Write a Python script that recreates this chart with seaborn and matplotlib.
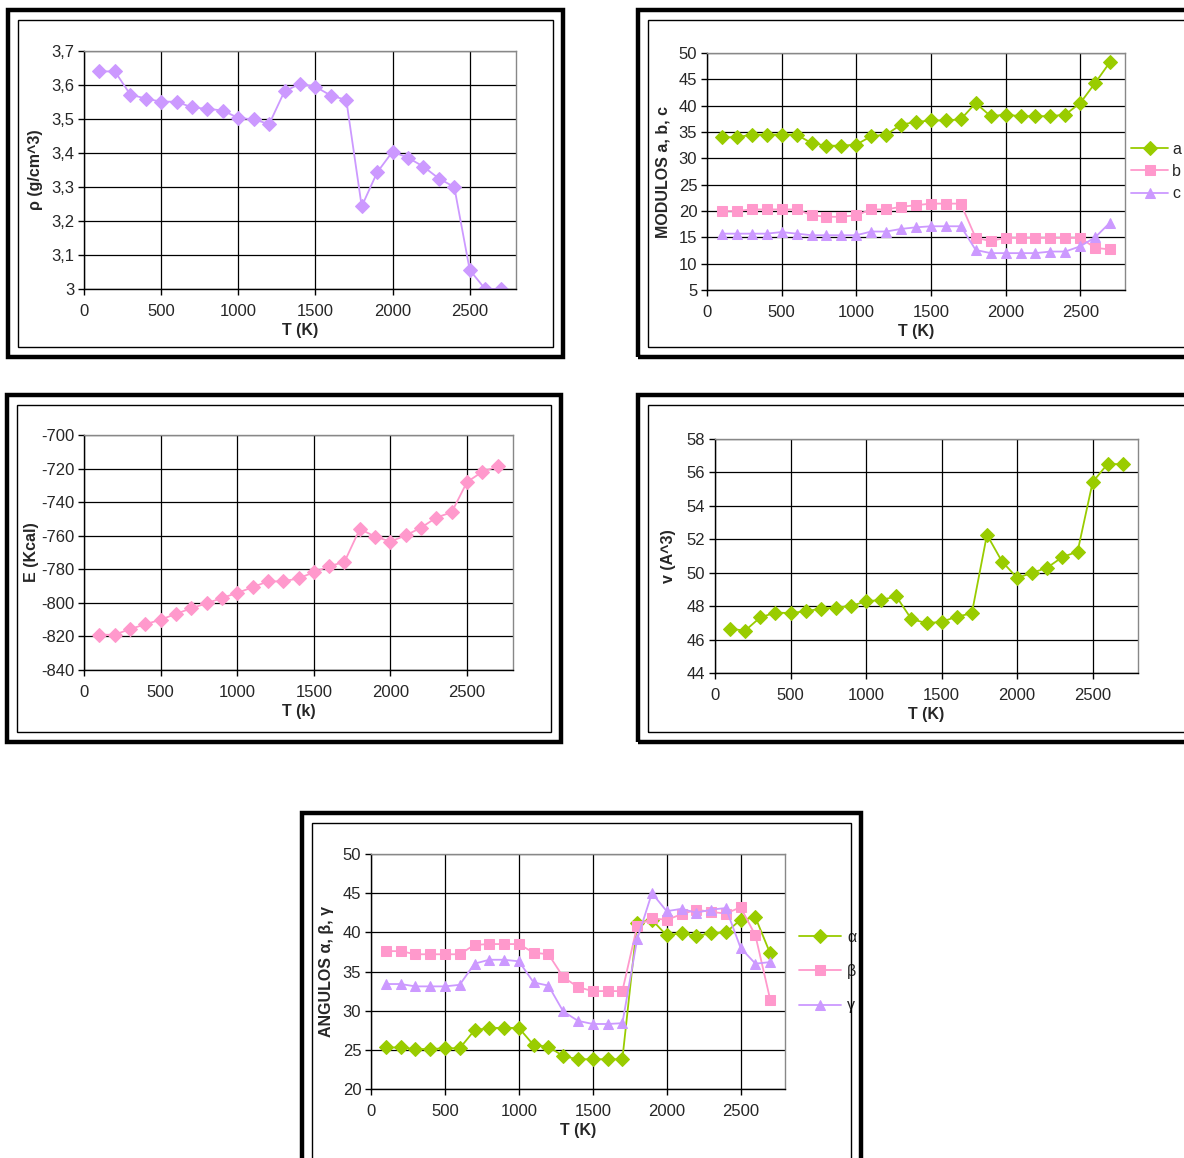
import numpy as np
import pandas as pd
import seaborn as sns
from matplotlib import pyplot as plt
from matplotlib.patches import Rectangle
from matplotlib.ticker import FuncFormatter, MultipleLocator

# temperatures (K)
T = list(range(100, 2800, 100))

rho = [3.640, 3.640, 3.572, 3.560, 3.551, 3.551, 3.534, 3.530, 3.525, 3.503,
       3.499, 3.485, 3.582, 3.603, 3.595, 3.569, 3.556, 3.243, 3.343, 3.404,
       3.386, 3.360, 3.325, 3.300, 3.056, 3.000, 3.000]

mod_a = [34.0, 34.0, 34.5, 34.5, 34.5, 34.5, 32.9, 32.4, 32.4, 32.6, 34.2, 34.5,
         36.4, 36.9, 37.2, 37.2, 37.4, 40.5, 38.0, 38.3, 38.0, 38.0, 38.0, 38.3,
         40.5, 44.3, 48.3]
mod_b = [20.0, 20.0, 20.3, 20.3, 20.3, 20.3, 19.2, 18.9, 18.9, 19.2, 20.3, 20.3,
         20.8, 21.1, 21.4, 21.4, 21.4, 14.9, 14.3, 14.9, 14.9, 14.9, 14.9, 14.9,
         14.9, 13.0, 12.7]
mod_c = [15.7, 15.7, 15.7, 15.7, 16.0, 15.7, 15.4, 15.4, 15.4, 15.4, 16.1, 16.1,
         16.6, 16.9, 17.1, 17.1, 17.1, 12.6, 12.0, 12.0, 12.0, 12.0, 12.3, 12.3,
         13.3, 15.0, 17.8]

energy = [-819.0, -819.0, -815.6, -812.8, -810.0, -806.6, -803.2, -800.3, -797.1,
          -794.1, -790.7, -787.2, -787.2, -785.4, -781.8, -778.2, -775.6, -756.0,
          -760.5, -763.5, -759.8, -755.2, -749.2, -746.0, -728.0, -721.9, -718.7]

vol = [46.64, 46.54, 47.33, 47.61, 47.59, 47.69, 47.85, 47.91, 48.01, 48.29,
       48.37, 48.58, 47.23, 46.98, 47.06, 47.37, 47.57, 52.27, 50.67, 49.69,
       49.99, 50.31, 50.94, 51.26, 55.43, 56.52, 56.48]

alpha = [25.3, 25.3, 25.1, 25.1, 25.2, 25.2, 27.5, 27.8, 27.8, 27.8, 25.6, 25.4,
         24.2, 23.8, 23.8, 23.8, 23.8, 41.2, 41.6, 39.6, 39.9, 39.5, 39.9, 40.0,
         41.6, 41.9, 37.3]
beta = [37.6, 37.6, 37.2, 37.2, 37.2, 37.2, 38.4, 38.5, 38.5, 38.5, 37.4, 37.2,
        34.3, 33.0, 32.5, 32.5, 32.5, 40.8, 41.8, 41.6, 42.3, 42.9, 42.6, 42.4,
        43.2, 39.6, 31.4]
gamma = [33.4, 33.4, 33.1, 33.1, 33.1, 33.3, 36.0, 36.5, 36.5, 36.3, 33.6, 33.2,
         29.9, 28.7, 28.3, 28.3, 28.4, 39.1, 45.0, 42.7, 43.0, 42.5, 42.9, 43.1,
         38.0, 36.0, 36.2]

GREEN = '#99CC00'
PINK = '#FF99CC'
LILAC = '#CC99FF'

sns.set_style('white')
plt.rcParams['font.family'] = ['Liberation Sans', 'DejaVu Sans']
plt.rcParams['font.size'] = 11
plt.rcParams['axes.unicode_minus'] = False

W, H = 1184, 1158
fig = plt.figure(figsize=(W / 100, H / 100), dpi=100)


def frame(x0, y0, x1, y1):
    # thick outer box + thin inner box, coords in pixels from top-left
    fig.patches.append(Rectangle((x0 / W, 1 - y1 / H), (x1 - x0) / W, (y1 - y0) / H,
                                 transform=fig.transFigure, fill=False,
                                 edgecolor='black', linewidth=3.2))
    fig.patches.append(Rectangle(((x0 + 10) / W, 1 - (y1 - 10) / H), (x1 - x0 - 20) / W,
                                 (y1 - y0 - 20) / H, transform=fig.transFigure,
                                 fill=False, edgecolor='black', linewidth=1.0))


def make_ax(l, t, r, b, ylim, ystep, comma=False):
    ax = fig.add_axes([l / W, 1 - b / H, (r - l) / W, (b - t) / H])
    ax.set_xlim(0, 2800)
    ax.set_ylim(*ylim)
    ax.set_xticks(range(0, 2501, 500))
    ax.yaxis.set_major_locator(MultipleLocator(ystep))
    if comma:
        ax.yaxis.set_major_formatter(FuncFormatter(lambda v, p: f'{v:g}'.replace('.', ',')))
    ax.grid(True, color='black', linewidth=0.9)
    ax.set_axisbelow(True)
    for s in ['top', 'right']:
        ax.spines[s].set_color('#888888')
        ax.spines[s].set_linewidth(1.0)
    for s in ['left', 'bottom']:
        ax.spines[s].set_color('black')
        ax.spines[s].set_linewidth(1.0)
    ax.tick_params(direction='out', length=4, width=1, color='black',
                   labelsize=12, left=True, bottom=True)
    ax.tick_params(axis='x', pad=7)
    ax.tick_params(axis='y', pad=3)
    return ax


def line(ax, y, color, marker, label=None, ms=6.8):
    df = pd.DataFrame({'T': T, 'y': y})
    sns.lineplot(data=df, x='T', y='y', ax=ax, color=color, marker=marker,
                 markersize=ms, markeredgecolor=color, linewidth=1.3,
                 label=label, legend=False)


def labels(ax, xlabel, ylabel, ylab_x, l, t, r, b):
    ax.set_xlabel(xlabel, fontweight='bold', fontsize=11.5, labelpad=3)
    ax.set_ylabel(ylabel, fontweight='bold', fontsize=11.5)
    # label anchor sits on the right edge of the rotated text
    ax.yaxis.set_label_coords((ylab_x + 8 - l) / (r - l), 0.5)


# panel 1: density
frame(8, 10, 563, 357)
box = (84, 51, 516, 289)
ax1 = make_ax(*box, (3.0, 3.7), 0.1, comma=True)
line(ax1, rho, LILAC, 'D')
labels(ax1, 'T (K)', 'ρ (g/cm^3)', 35, *box)

# panel 2: cell lengths
frame(638, 10, 1200, 357)
box = (707, 53, 1125, 290)
ax2 = make_ax(*box, (5, 50), 5)
line(ax2, mod_a, GREEN, 'D', 'a')
line(ax2, mod_b, PINK, 's', 'b')
line(ax2, mod_c, LILAC, '^', 'c', ms=7.2)
labels(ax2, 'T (K)', 'MODULOS a, b, c', 662, *box)
ax2.legend(loc='center left', bbox_to_anchor=(1.0, 0.5), frameon=False,
           handlelength=2.3, handletextpad=0.25, labelspacing=0.45, fontsize=11.5,
           borderaxespad=0.0)

# panel 3: energy
frame(7, 395, 561, 742)
box = (84, 435, 513, 670)
ax3 = make_ax(*box, (-840, -700), 20)
line(ax3, energy, PINK, 'D')
labels(ax3, 'T (k)', 'E (Kcal)', 31, *box)

# panel 4: volume
frame(638, 395, 1200, 742)
box = (715, 439, 1138, 673)
ax4 = make_ax(*box, (44, 58), 2)
line(ax4, vol, GREEN, 'D')
labels(ax4, 'T (K)', 'v (A^3)', 668, *box)

# panel 5: angles
frame(302, 813, 861, 1170)
box = (371, 854, 785, 1089)
ax5 = make_ax(*box, (20, 50), 5)
line(ax5, alpha, GREEN, 'D', 'α')
line(ax5, beta, PINK, 's', 'β')
line(ax5, gamma, LILAC, '^', 'γ', ms=7.2)
labels(ax5, 'T (K)', 'ANGULOS α, β, γ', 326, *box)
ax5.legend(loc='center left', bbox_to_anchor=(1.0, 0.5), frameon=False,
           handlelength=2.6, handletextpad=0.4, labelspacing=1.2, fontsize=11.5,
           borderaxespad=0.5)

fig.savefig('out.png', dpi=100)
